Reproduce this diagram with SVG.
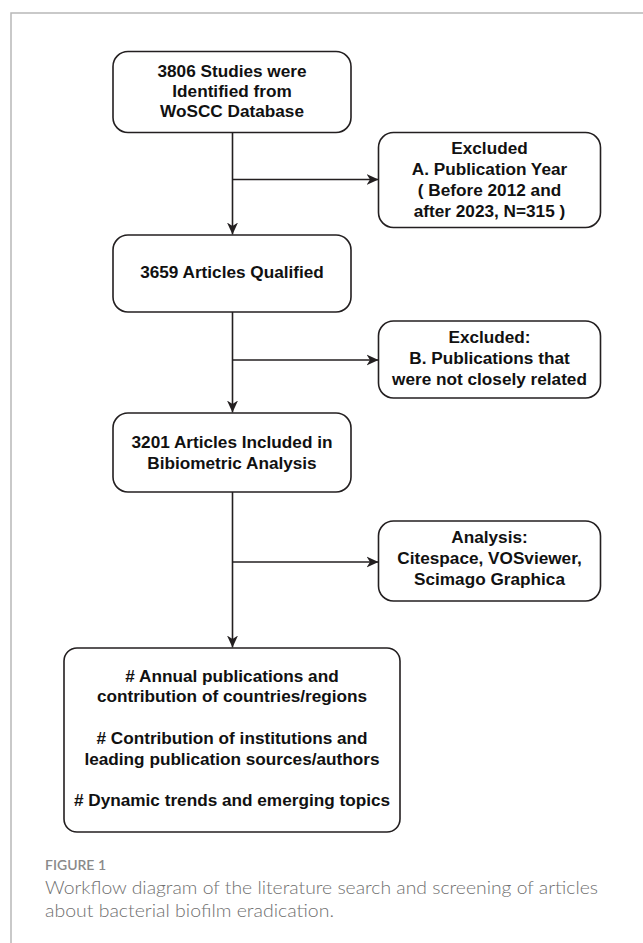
<svg xmlns="http://www.w3.org/2000/svg" width="643" height="943" viewBox="0 0 643 943">
  <style>
    .box { fill: #ffffff; stroke: #231f20; stroke-width: 1.6; }
    .lbl { font-family: "Liberation Sans", Arial, sans-serif; font-weight: bold; font-size: 17.2px; fill: #111111; text-anchor: middle; }
    .conn { fill: none; stroke: #231f20; stroke-width: 1.6; }
    .frame { fill: none; stroke: #b8b8b8; stroke-width: 1.5; }
    .fig { font-family: Lato, "Open Sans", sans-serif; font-weight: 600; font-size: 14px; fill: #8a8a8a; }
    .cap { font-family: Lato, "Open Sans", sans-serif; font-weight: 300; font-size: 17.5px; fill: #6f6f6f; }
  </style>
  <defs>
    <marker id="arr" markerUnits="userSpaceOnUse" markerWidth="14" markerHeight="14" viewBox="-12 -7 14 14" refX="0" refY="0" orient="auto">
      <path d="M0,0 L-12,-5.5 L-8.5,0 L-12,5.5 Z" fill="#231f20"/>
    </marker>
  </defs>

  <rect width="643" height="943" fill="#ffffff"/>
  <path class="frame" d="M11,943 V13 H643"/>

  <g id="connectors">
    <path class="conn" d="M232.5,132.5 V234.5" marker-end="url(#arr)"/>
    <path class="conn" d="M232.5,179.5 H378.5" marker-end="url(#arr)"/>
    <path class="conn" d="M232.5,312 V412.5" marker-end="url(#arr)"/>
    <path class="conn" d="M232.5,360 H378.5" marker-end="url(#arr)"/>
    <path class="conn" d="M232.5,492 V647.5" marker-end="url(#arr)"/>
    <path class="conn" d="M232.5,562 H378.5" marker-end="url(#arr)"/>
  </g>

  <g id="node-identified">
    <rect class="box" x="113" y="51.5" width="238" height="81" rx="15"/>
    <text class="lbl" x="232" y="76.5">3806 Studies were</text>
    <text class="lbl" x="232" y="96.8">Identified from</text>
    <text class="lbl" x="232" y="117">WoSCC Database</text>
  </g>

  <g id="node-excluded-a">
    <rect class="box" x="378.5" y="132.5" width="222" height="95" rx="15"/>
    <text class="lbl" x="489.5" y="154">Excluded</text>
    <text class="lbl" x="489.5" y="175">A. Publication Year</text>
    <text class="lbl" x="489.5" y="196">( Before 2012 and</text>
    <text class="lbl" x="489.5" y="216.8">after 2023, N=315 )</text>
  </g>

  <g id="node-qualified">
    <rect class="box" x="113" y="235" width="238" height="77" rx="15"/>
    <text class="lbl" x="232" y="278">3659 Articles Qualified</text>
  </g>

  <g id="node-excluded-b">
    <rect class="box" x="378.5" y="321" width="222" height="77" rx="15"/>
    <text class="lbl" x="489.5" y="343">Excluded:</text>
    <text class="lbl" x="489.5" y="364">B. Publications that</text>
    <text class="lbl" x="489.5" y="384.5">were not closely related</text>
  </g>

  <g id="node-included">
    <rect class="box" x="113" y="413" width="238" height="79" rx="15"/>
    <text class="lbl" x="232" y="448">3201 Articles Included in</text>
    <text class="lbl" x="232" y="468.5">Bibiometric Analysis</text>
  </g>

  <g id="node-analysis">
    <rect class="box" x="378.5" y="521" width="222" height="80" rx="15"/>
    <text class="lbl" x="489.5" y="543">Analysis:</text>
    <text class="lbl" x="489.5" y="564">Citespace, VOSviewer,</text>
    <text class="lbl" x="489.5" y="585">Scimago Graphica</text>
  </g>

  <g id="node-results">
    <rect class="box" x="64" y="648" width="336" height="184" rx="13"/>
    <text class="lbl" x="232" y="681.5"># Annual publications and</text>
    <text class="lbl" x="232" y="702">contribution of countries/regions</text>
    <text class="lbl" x="232" y="744"># Contribution of institutions and</text>
    <text class="lbl" x="232" y="764.5">leading publication sources/authors</text>
    <text class="lbl" x="232" y="806"># Dynamic trends and emerging topics</text>
  </g>

  <g id="caption">
    <text class="fig" x="45" y="870" textLength="61" lengthAdjust="spacingAndGlyphs">FIGURE 1</text>
    <text class="cap" x="45" y="894" textLength="553" lengthAdjust="spacingAndGlyphs">Workflow diagram of the literature search and screening of articles</text>
    <text class="cap" x="45" y="917" textLength="289" lengthAdjust="spacingAndGlyphs">about bacterial biofilm eradication.</text>
  </g>
</svg>
